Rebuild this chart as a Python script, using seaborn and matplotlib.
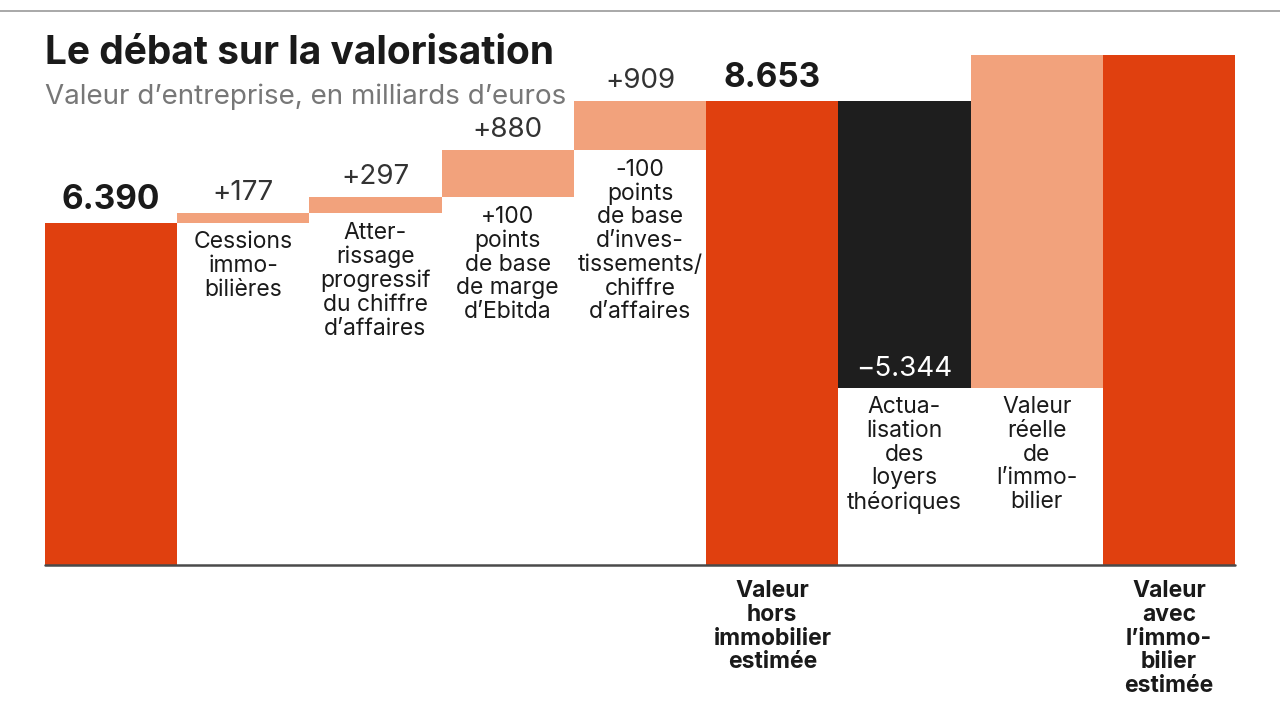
import matplotlib
matplotlib.use("Agg")
import matplotlib.pyplot as plt
import seaborn as sns
import pandas as pd

# ---------------- data ----------------
title = "Le débat sur la valorisation"
subtitle = "Valeur d’entreprise, en milliards d’euros"

steps = ["Valeur de départ", "Cessions", "Atterrissage", "Marge", "Investissements",
         "Valeur hors immobilier", "Actualisation", "Immobilier", "Valeur avec immobilier"]
kinds = ["total", "delta", "delta", "delta", "delta", "total", "delta", "delta", "total"]
values = [6390, 177, 297, 880, 909, 8653, -5344, 6200, 9509]
show_value = [True, True, True, True, True, True, True, False, False]

inner_labels = [
    "",
    "Cessions\nimmo-\nbilières",
    "Atter-\nrissage\nprogressif\ndu chiffre\nd’affaires",
    "+100\npoints\nde base\nde marge\nd’Ebitda",
    "-100\npoints\nde base\nd’inves-\ntissements/\nchiffre\nd’affaires",
    "",
    "Actua-\nlisation\ndes\nloyers\nthéoriques",
    "Valeur\nréelle\nde\nl’immo-\nbilier",
    "",
]
total_labels = [
    "",
    "", "", "", "",
    "Valeur\nhors\nimmobilier\nestimée",
    "", "",
    "Valeur\navec\nl’immo-\nbilier\nestimée",
]

# ---------------- style ----------------
ORANGE = "#E0400F"
SALMON = "#F2A27C"
BLACK = "#1E1E1E"

sns.set_theme(style="white")
plt.rcParams["font.family"] = ["Inter", "DejaVu Sans"]

# waterfall geometry computed from the values
bottoms, heights, colors = [], [], []
level = 0
for k, v in zip(kinds, values):
    if k == "total":
        bottoms.append(0)
        heights.append(v)
        colors.append(ORANGE)
        level = v
    else:
        if v >= 0:
            bottoms.append(level)
            heights.append(v)
            colors.append(SALMON)
        else:
            bottoms.append(level + v)
            heights.append(-v)
            colors.append(BLACK)
        level += v

df = pd.DataFrame({"step": steps, "height": heights})

fig = plt.figure(figsize=(12.8, 7.2), dpi=100)
fig.patch.set_facecolor("white")
ax = fig.add_axes([0.035, 0.215, 0.93, 0.715])

sns.barplot(data=df, x="step", y="height", order=steps, bottom=bottoms,
            width=1.0, color=ORANGE, saturation=1, errorbar=None,
            linewidth=0, ax=ax)
for patch, c in zip(ax.patches, colors):
    patch.set_facecolor(c)
    patch.set_edgecolor(c)

ax.set_xlim(-0.5, len(steps) - 0.5)
ax.set_ylim(0, 9600)
ax.set_axis_off()
ax.axhline(0, color="#4a4a4a", lw=1.8, zorder=5, clip_on=False)


def fmt(v):
    return f"{abs(v):,}".replace(",", ".")


for i, (k, v, b, h) in enumerate(zip(kinds, values, bottoms, heights)):
    top = b + h
    if show_value[i]:
        if k == "total":
            ax.text(i, top + 130, fmt(v), ha="center", va="bottom",
                    fontsize=24, fontweight="bold", color="#1a1a1a")
        elif v >= 0:
            ax.text(i, top + 130, "+" + fmt(v), ha="center", va="bottom",
                    fontsize=20, color="#333333")
        else:
            ax.text(i, b + 110, "\u2212" + fmt(v), ha="center", va="bottom",
                    fontsize=20, color="white")
    if inner_labels[i]:
        ax.text(i, b - 160, inner_labels[i], ha="center", va="top",
                fontsize=16.5, color="#1a1a1a", linespacing=1.1)
    if total_labels[i]:
        ax.text(i, -280, total_labels[i], ha="center", va="top",
                fontsize=16.5, fontweight="bold", color="#1a1a1a",
                linespacing=1.1, clip_on=False)

fig.add_artist(plt.Line2D([0.0, 1.0], [0.985, 0.985], color="#9a9a9a", lw=1.2))
fig.text(0.035, 0.925, title, fontsize=28, fontweight="bold", color="#1a1a1a",
         ha="left", va="center")
fig.text(0.035, 0.865, subtitle, fontsize=20, color="#777777",
         ha="left", va="center")

fig.savefig("out.png", dpi=100, facecolor="white")
